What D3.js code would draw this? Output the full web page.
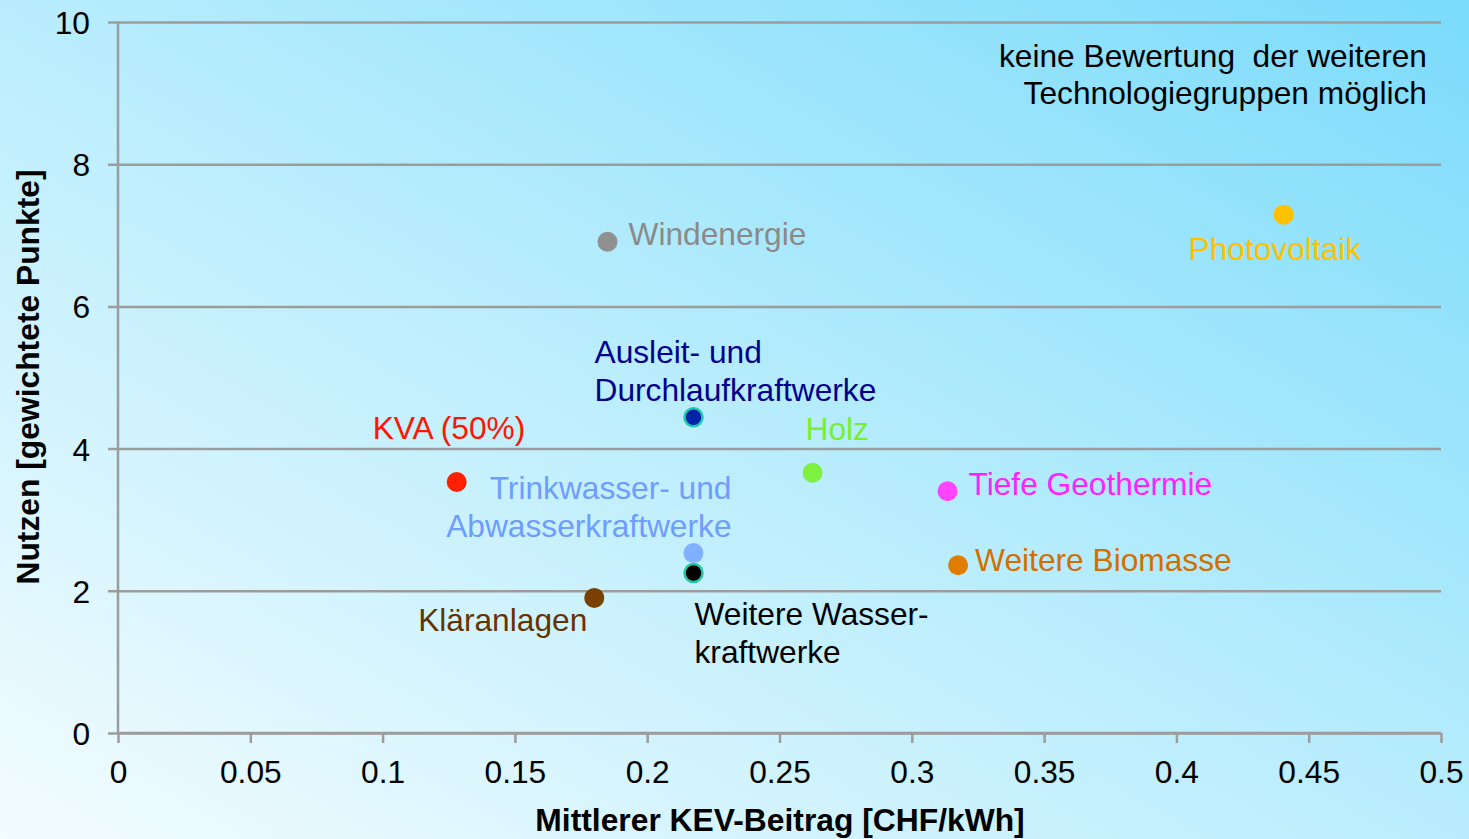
<!DOCTYPE html>
<html><head><meta charset="utf-8">
<script src="https://cdn.jsdelivr.net/npm/d3@7"></script>
<style>
html,body{margin:0;padding:0;background:#fff;}
svg{display:block;font-family:"Liberation Sans",Arial,sans-serif;}
</style></head>
<body>
<svg id="chart" width="1469" height="839"></svg>
<script>
// ---- data ----
const names = ["Windenergie","Photovoltaik","Ausleit- und Durchlaufkraftwerke","KVA (50%)","Holz","Tiefe Geothermie","Trinkwasser- und Abwasserkraftwerke","Weitere Wasserkraftwerke","Weitere Biomasse","Kläranlagen"];
const kev = [0.185,0.4405,0.2175,0.128,0.2625,0.3135,0.2175,0.2175,0.3175,0.18];
const nutzen = [6.91,7.29,4.44,3.53,3.66,3.40,2.53,2.25,2.36,1.90];
const labelLines = [["Windenergie"],["Photovoltaik"],["Ausleit- und","Durchlaufkraftwerke"],["KVA (50%)"],["Holz"],["Tiefe Geothermie"],["Trinkwasser- und","Abwasserkraftwerke"],["Weitere Wasser-","kraftwerke"],["Weitere Biomasse"],["Kläranlagen"]];
const xTicks = [0,0.05,0.1,0.15,0.2,0.25,0.3,0.35,0.4,0.45,0.5];
const xTickLabels = ["0","0.05","0.1","0.15","0.2","0.25","0.3","0.35","0.4","0.45","0.5"];
const yTicks = [0,2,4,6,8,10];
const xTitle = "Mittlerer KEV-Beitrag [CHF/kWh]";
const yTitle = "Nutzen [gewichtete Punkte]";
const noteLines = ["keine Bewertung  der weiteren","Technologiegruppen möglich"];

// ---- styles ----
const fills = ["#909090","#ffc000","#0023a8","#ff2000","#7ef040","#ff44ff","#80b0ff","#000000","#e07d00","#7a4000"];
const textCols = ["#8a8a8a","#ffc000","#000090","#ff1500","#77ee33","#ff22ff","#6f9cff","#000000","#d07000","#663300"];
const strokes = [null,null,"#20c8a8",null,null,null,null,"#20c8a8",null,null];
// label offsets relative to point: dx, dy (baseline of first line), anchor
const lab = [
  [21,3,"start"],[-95,45,"start"],[-99,-54,"start"],[-84,-43,"start"],[-7,-33,"start"],
  [21,4,"start"],[38,-54,"end"],[1,52,"start"],[17,6,"start"],[-7,33,"end"]
];
const FS = 31.7;

const W = 1469, H = 839;
const m = {l:118, r:1441, t:22, b:733};
const svg = d3.select("#chart");

const defs = svg.append("defs");
const g = defs.append("linearGradient").attr("id","bg").attr("x1","0").attr("y1","1").attr("x2","1").attr("y2","0");
g.append("stop").attr("offset","0").attr("stop-color","#f3fcff");
g.append("stop").attr("offset","0.5").attr("stop-color","#b9edfd");
g.append("stop").attr("offset","1").attr("stop-color","#7bdbfb");
svg.append("rect").attr("width",W).attr("height",H).attr("fill","url(#bg)");

const x = d3.scaleLinear().domain([0,0.5]).range([m.l,m.r]);
const y = d3.scaleLinear().domain([0,10]).range([m.b,m.t]);

const grid = "#9c9c9c";
const yAx = svg.append("g").attr("transform",`translate(${m.l},0)`)
  .call(d3.axisLeft(y).tickValues(yTicks).tickSize(10).tickPadding(18).tickFormat(d3.format("d")));
yAx.select(".domain").remove();
yAx.selectAll(".tick line").attr("stroke",grid).attr("stroke-width",2.5).attr("x2",m.r-m.l).attr("x1",-10);
yAx.selectAll(".tick text").attr("font-size",FS).attr("fill","#000").attr("font-family","Liberation Sans, Arial, sans-serif").attr("dy","0.36em");
svg.append("line").attr("x1",m.l).attr("x2",m.l).attr("y1",m.t).attr("y2",m.b).attr("stroke",grid).attr("stroke-width",2.5);

const xAx = svg.append("g").attr("transform",`translate(0,${m.b})`)
  .call(d3.axisBottom(x).tickValues(xTicks).tickSize(10).tickPadding(17).tickFormat((d,i)=>xTickLabels[i]));
xAx.select(".domain").attr("stroke",grid).attr("stroke-width",2.5).attr("d",`M${m.l},0H${m.r}`);
xAx.selectAll(".tick line").attr("stroke",grid).attr("stroke-width",2.5);
xAx.selectAll(".tick text").attr("font-size",FS).attr("fill","#000").attr("font-family","Liberation Sans, Arial, sans-serif");

svg.append("text").attr("x",780).attr("y",831).attr("text-anchor","middle")
  .attr("font-size",31.8).attr("font-weight","bold").text(xTitle);
svg.append("text").attr("transform",`translate(39,${377}) rotate(-90)`).attr("text-anchor","middle")
  .attr("font-size",31.8).attr("font-weight","bold").text(yTitle);

// note
const nt = svg.append("text").attr("font-size",FS).attr("fill","#000").attr("text-anchor","end").style("white-space","pre");
noteLines.forEach((t,i)=>nt.append("tspan").attr("x",1427).attr("y",67+i*37).text(t));

// points
names.forEach((n,i)=>{
  const px = x(kev[i]), py = y(nutzen[i]);
  const c = svg.append("circle").attr("cx",px).attr("cy",py).attr("r",strokes[i]?9:10).attr("fill",fills[i]);
  if (strokes[i]) c.attr("stroke",strokes[i]).attr("stroke-width",2.5);
  const t = svg.append("text").attr("font-size",FS).attr("fill",textCols[i]).attr("text-anchor",lab[i][2]);
  labelLines[i].forEach((s,k)=>t.append("tspan").attr("x",px+lab[i][0]).attr("y",py+lab[i][1]+k*37.5).text(s));
});
</script>
</body></html>
